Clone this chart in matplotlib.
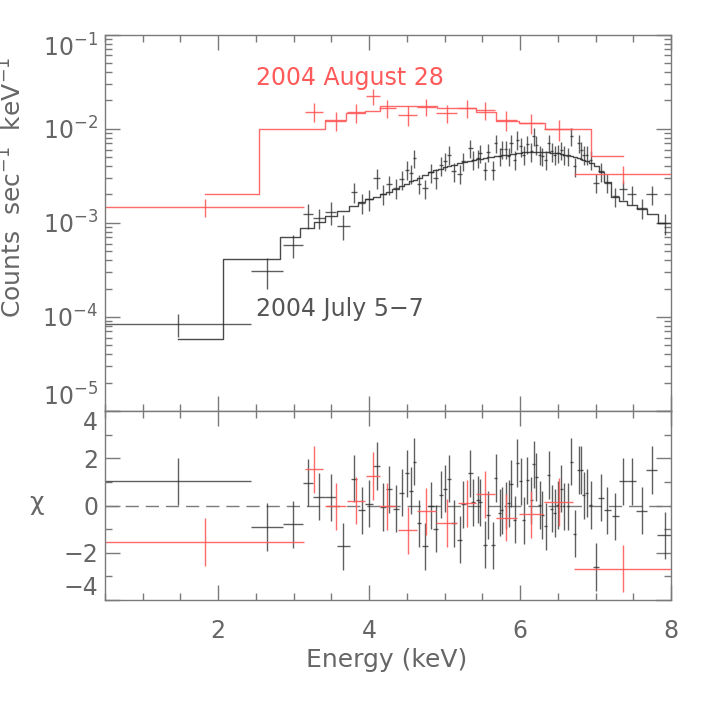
import numpy as np
import matplotlib
matplotlib.use("Agg")
import matplotlib.pyplot as plt
from matplotlib.ticker import FixedLocator, FuncFormatter, MultipleLocator, LogLocator

# ---------------- data ----------------
# 2004 July 5-7 (black)
blk_e = [1.47, 2.65, 2.99, 3.19, 3.34, 3.49, 3.66, 3.80, 3.90, 4.00,
         4.10, 4.18, 4.26, 4.35, 4.43, 4.50, 4.55, 4.60, 4.66, 4.74,
         4.82, 4.88, 4.95, 5.01, 5.06, 5.12, 5.20, 5.25, 5.34, 5.38,
         5.44, 5.47, 5.54, 5.58, 5.64, 5.68, 5.73, 5.76, 5.81, 5.85,
         5.88, 5.93, 5.96, 6.01, 6.05, 6.095, 6.148, 6.183, 6.214, 6.259,
         6.294, 6.338, 6.378, 6.423, 6.458, 6.502, 6.547, 6.582, 6.635, 6.679,
         6.724, 6.777, 6.812, 6.843, 6.883, 6.936, 7.012, 7.078, 7.158, 7.264,
         7.366, 7.477, 7.61, 7.743, 7.92]
blk_de = [0.97, 0.21, 0.13, 0.07, 0.08, 0.07, 0.09, 0.045, 0.05, 0.05,
          0.045, 0.04, 0.04, 0.04, 0.035, 0.03, 0.025, 0.025, 0.03, 0.035,
          0.035, 0.03, 0.03, 0.025, 0.025, 0.03, 0.035, 0.03, 0.03, 0.025,
          0.025, 0.025, 0.025, 0.025, 0.025, 0.02, 0.02, 0.02, 0.02, 0.02,
          0.02, 0.02, 0.02, 0.02, 0.02, 0.02, 0.02, 0.02, 0.02, 0.02,
          0.02, 0.02, 0.02, 0.02, 0.02, 0.02, 0.02, 0.02, 0.02, 0.02,
          0.02, 0.02, 0.02, 0.02, 0.02, 0.02, 0.04, 0.04, 0.05, 0.05,
          0.05, 0.06, 0.07, 0.07, 0.10]
# rates in units of 1e-3 counts/s/keV
blk_rate = [0.084, 0.31, 0.58, 1.23, 1.13, 1.30, 0.93, 2.14, 1.64, 1.80,
            3.0, 2.04, 2.56, 2.36, 2.89, 3.68, 3.34, 4.9, 2.6, 2.32,
            3.45, 3.01, 4.06, 4.52, 5.31, 3.54, 3.32, 4.52, 6.25, 4.7,
            4.9, 5.53, 3.62, 5.66, 3.68, 7.06, 5.1, 6.1, 6.1, 5.1,
            7.06, 4.7, 7.66, 6.5, 5.3, 6.9, 5.76, 8.3, 6.78, 5.31,
            5.1, 4.7, 7.06, 5.76, 5.31, 5.53, 6.0, 5.31, 5.1, 8.3,
            4.0, 7.06, 6.0, 5.31, 5.31, 4.7, 2.66, 3.54, 2.66, 1.92,
            2.26, 2.0, 1.45, 2.0, 1.0]
blk_err = [0.023, 0.11, 0.16, 0.37, 0.28, 0.35, 0.28, 0.5, 0.4, 0.45,
           0.7, 0.5, 0.6, 0.55, 0.65, 0.8, 0.75, 1.1, 0.6, 0.55,
           0.8, 0.7, 0.9, 1.0, 1.2, 0.8, 0.75, 1.0, 1.4, 1.05,
           1.1, 1.2, 0.8, 1.25, 0.8, 1.6, 1.1, 1.35, 1.35, 1.1,
           1.6, 1.05, 1.7, 1.45, 1.2, 1.5, 1.3, 1.8, 1.5, 1.2,
           1.1, 1.05, 1.6, 1.3, 1.2, 1.2, 1.3, 1.2, 1.1, 1.8,
           0.9, 1.6, 1.3, 1.2, 1.2, 1.05, 0.6, 0.8, 0.6, 0.45,
           0.5, 0.45, 0.35, 0.45, 0.25]
blk_model = [0.0585, 0.41, 0.71, 0.89, 1.02, 1.18, 1.35, 1.5, 1.66, 1.8,
             1.89, 2.0, 2.1, 2.3, 2.45, 2.6, 2.75, 2.88, 3.0, 3.2,
             3.45, 3.6, 3.75, 3.9, 4.0, 4.15, 4.3, 4.4, 4.55, 4.65,
             4.75, 4.8, 4.9, 5.0, 5.05, 5.1, 5.15, 5.2, 5.25, 5.3,
             5.35, 5.4, 5.45, 5.55, 5.6, 5.65, 5.7, 5.7, 5.7, 5.7,
             5.65, 5.6, 5.6, 5.55, 5.5, 5.45, 5.4, 5.3, 5.2, 5.1,
             5.0, 4.9, 4.8, 4.7, 4.55, 4.3, 4.0, 3.5, 2.7, 1.9,
             1.72, 1.54, 1.4, 1.23, 1.0]
blk_chi = [1.03, -0.91, -0.79, 0.96, 0.37, 0.34, -1.72, 1.13, -0.2, 0.08,
           1.67, -0.06, 0.68, -0.13, 0.55, 1.36, 0.63, 1.86, -0.76, -1.72,
           0.0, -0.98, 0.46, 0.71, 1.14, -0.76, -1.44, 0.05, 1.36, 0.14,
           0.25, 0.14, -1.66, -0.4, -1.69, 1.17, -0.3, -0.2, 0.0, 0.1,
           0.93, -0.6, 1.8, 1.02, -0.62, 1.07, 0.22, 1.74, 1.21, 0.02,
           -0.4, -0.88, 1.29, -0.13, -0.32, 0.02, 0.72, -0.03, -0.03, 1.85,
           -1.19, 1.5, 1.5, 0.43, 0.53, 0.02, -2.6, 0.33, -0.2, -0.46,
           1.03, 1.03, -0.22, 1.5, -1.26]

# 2004 August 28 (red)
red_e = [1.82, 3.27, 3.56, 3.83, 4.05, 4.24, 4.51, 4.76, 5.03, 5.30,
         5.54, 5.82, 6.15, 6.51, 7.36]
red_de = [1.32, 0.12, 0.14, 0.12, 0.09, 0.11, 0.13, 0.13, 0.14, 0.12,
          0.13, 0.14, 0.16, 0.19, 0.65]
red_rate = [1.48, 15.2, 12.2, 14.9, 22.3, 16.6, 14.1, 17.0, 14.7, 16.6,
            15.9, 12.5, 11.5, 9.9, 3.3]
red_err = [0.33, 3.4, 2.8, 3.3, 4.4, 3.7, 3.5, 3.5, 3.3, 3.5,
           3.5, 3.0, 2.8, 2.5, 0.7]
red_model = [2.0, 10.0, 12.45, 14.7, 15.5, 17.2, 17.5, 17.6, 16.6, 16.5,
             14.9, 12.2, 11.5, 10.0, 5.1]
red_chi = [-1.54, 1.54, -0.03, 0.21, 1.25, -0.03, -1.05, -0.25, -0.74, 0.1,
           0.48, -0.51, -0.37, 0.15, -2.67]

spec_ticks = [1e-5, 1e-4, 1e-3, 1e-2, 1e-1]
chi_ticks = [-4, -2, 0, 2, 4]
energy_ticks = [2, 4, 6, 8]

# ---------------- style ----------------
plt.rcParams['font.family'] = ['DejaVu Sans']
plt.rcParams['mathtext.default'] = 'regular'

grey = '#7a7a7a'
txt = '#666666'
blk = '#2a2a2a'
red = '#ff5a5a'
fs = 17

fig = plt.figure(figsize=(7.06, 7.06), dpi=100)
ax1 = fig.add_axes([0.1487, 0.4178, 0.8017, 0.5333])
ax2 = fig.add_axes([0.1487, 0.1501, 0.8017, 0.2677], sharex=ax1)

scale = 1e-3

# =========================================
# top panel - spectrum
# =========================================
ax1.errorbar(blk_e, np.array(blk_rate) * scale, xerr=blk_de,
             yerr=np.array(blk_err) * scale, fmt='none', ecolor=blk,
             elinewidth=1.0, alpha=0.75)
ax1.step(blk_e, np.array(blk_model) * scale, where='mid', color=blk, lw=1.0, alpha=0.85)
ax1.errorbar(red_e, np.array(red_rate) * scale, xerr=red_de,
             yerr=np.array(red_err) * scale, fmt='none', ecolor=red,
             elinewidth=1.0, alpha=0.9)
ax1.step(red_e, np.array(red_model) * scale, where='mid', color=red, lw=1.0, alpha=0.9)

ax1.set_yscale('log')
ax1.set_ylim(1e-5, 1e-1)
ax1.set_xlim(0.5, 8.0)
ax1.yaxis.set_major_locator(FixedLocator(spec_ticks))
ax1.yaxis.set_minor_locator(LogLocator(base=10, subs=np.arange(2, 10), numticks=20))
ax1.yaxis.set_major_formatter(FuncFormatter(lambda v, p: r'$10^{%d}$' % round(np.log10(v))))
ax1.yaxis.set_minor_formatter(FuncFormatter(lambda v, p: ''))
ax1.tick_params(axis='x', labelbottom=False)

ax1.text(2.5, 3.45e-2, '2004 August 28', color=red, fontsize=fs, ha='left', va='center')
ax1.text(2.5, 1.22e-4, '2004 July 5\u22127', color='#555555', fontsize=fs, ha='left', va='center')

# =========================================
# bottom panel - residuals
# =========================================
ax2.axhline(0, color=grey, lw=1.0, ls=(0, (9.5, 5)))
ax2.errorbar(blk_e, blk_chi, xerr=blk_de, yerr=np.ones(len(blk_chi)), fmt='none',
             ecolor=blk, elinewidth=1.0, alpha=0.75)
ax2.errorbar(red_e, red_chi, xerr=red_de, yerr=np.ones(len(red_chi)), fmt='none',
             ecolor=red, elinewidth=1.0, alpha=0.9)
ax2.set_ylim(-4.0, 4.0)
ax2.yaxis.set_major_locator(FixedLocator(chi_ticks))
ax2.yaxis.set_minor_locator(MultipleLocator(1))
ax2.xaxis.set_major_locator(FixedLocator(energy_ticks))
ax2.xaxis.set_minor_locator(MultipleLocator(0.5))
ax2.yaxis.set_major_formatter(FuncFormatter(lambda v, p: ('%d' % v).replace('-', '\u2212')))

for ax in (ax1, ax2):
    for s in ax.spines.values():
        s.set_color(grey)
        s.set_linewidth(1.0)
    ax.tick_params(which='both', direction='in', top=True, right=True,
                   color=grey, labelcolor=txt, labelsize=fs, width=1.0)
    ax.tick_params(which='major', length=11)
    ax.tick_params(which='minor', length=5)
    ax.tick_params(axis='y', which='major', pad=5)
ax2.tick_params(axis='x', which='major', pad=14)

# labels at the panel edges sit inside the axis range, as in the original
fig.canvas.draw()
yt1 = ax1.yaxis.get_major_ticks()
yt1[0].label1.set_verticalalignment('bottom')
yt1[-1].label1.set_verticalalignment('top')
yt2 = ax2.yaxis.get_major_ticks()
yt2[0].label1.set_verticalalignment('bottom')
yt2[-1].label1.set_verticalalignment('top')

fig.text(0.548, 0.065, 'Energy (keV)', color=txt, fontsize=fs + 1, ha='center', va='center')
fig.text(0.019, 0.734, r'Counts  sec$^{-1}$  keV$^{-1}$', rotation=90,
         color=txt, fontsize=fs + 1, ha='center', va='center')
fig.text(0.051, 0.288, '\u03c7', color=txt, fontsize=fs + 1, ha='center', va='center')

fig.savefig('out.png', dpi=100)
